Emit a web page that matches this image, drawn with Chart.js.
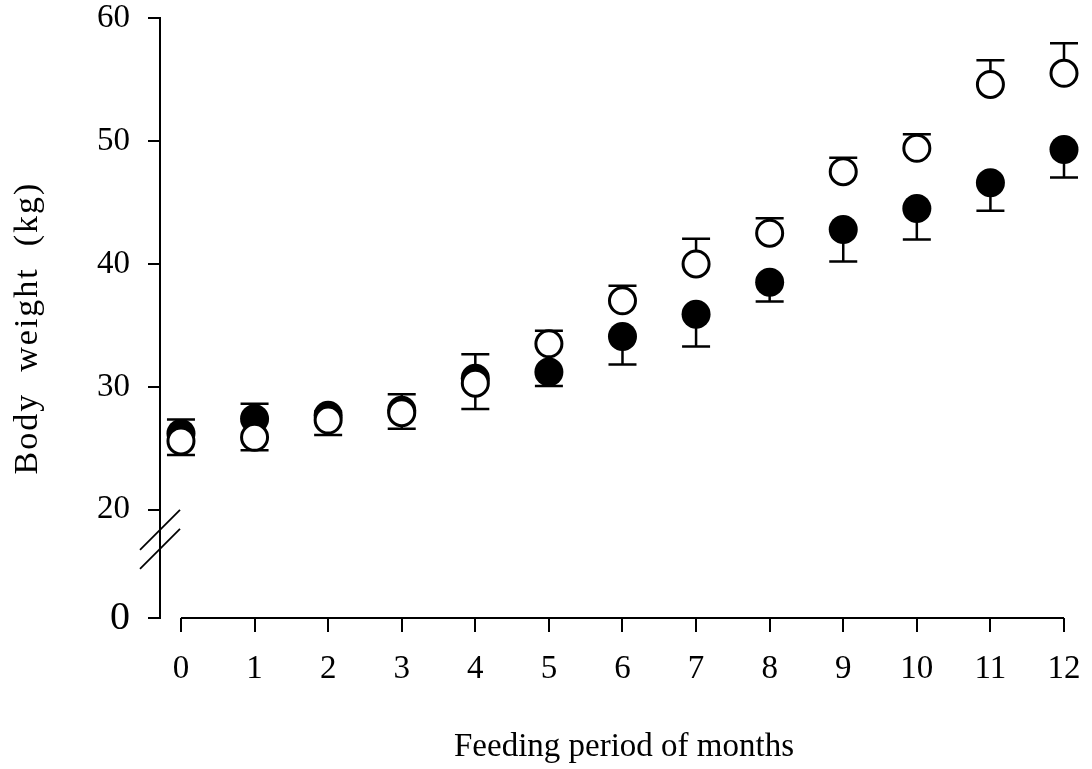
<!DOCTYPE html>
<html>
<head>
<meta charset="utf-8">
<script src="https://cdn.jsdelivr.net/npm/chart.js@4.4.0/dist/chart.umd.min.js"></script>
<style>
  html, body { margin: 0; padding: 0; background: #fff; }
  canvas { display: block; }
</style>
</head>
<body>
<canvas id="chart" width="1092" height="769"></canvas>
<script>
// ---------------- Data ----------------
const months = [0, 1, 2, 3, 4, 5, 6, 7, 8, 9, 10, 11, 12];

// open circles
const openWeight = [25.6, 25.9, 27.3, 27.9, 30.3, 33.5, 37.0, 40.0, 42.5, 47.5, 49.4, 54.6, 55.5];
const openErrUp = [0, 0, 0, 0, 0, 1.06, 1.22, 2.04, 1.22, 1.14, 1.14, 1.96, 2.44];
const openErrDown = [1.14, 1.06, 1.22, 1.3, 2.1, 0, 0, 0, 0, 0, 0, 0, 0];

// filled circles
const filledWeight = [26.2, 27.4, 27.7, 28.1, 30.7, 31.2, 34.1, 35.9, 38.5, 42.8, 44.5, 46.6, 49.3];
const filledErrUp = [1.14, 1.22, 0.3, 1.3, 1.96, 0, 0, 0, 0, 0, 0, 0, 0];
const filledErrDown = [0, 0, 0, 0, 0, 1.14, 2.28, 2.61, 1.55, 2.61, 2.52, 2.28, 2.28];

const yTicks = [20, 30, 40, 50, 60];
const yBottom = 11.2; // broken axis: bottom of the axis is labelled 0

const xTitle = "Feeding period of months";
const yTitle = "Body  weight  (kg)";

// ---------------- Helpers ----------------
const FONT = '"Liberation Serif", "Times New Roman", serif';

function toPoints(values) {
  return months.map((m, i) => ({ x: m, y: values[i] }));
}

// error bars, axis line, break marks and titles
const extras = {
  id: "extras",
  beforeDatasetsDraw(chart) {
    const ctx = chart.ctx;
    const xs = chart.scales.x;
    const ys = chart.scales.y;
    const series = [
      [filledWeight, filledErrUp, filledErrDown],
      [openWeight, openErrUp, openErrDown],
    ];
    ctx.save();
    ctx.strokeStyle = "#000";
    ctx.lineWidth = 2.5;
    series.forEach(([vals, up, down]) => {
      vals.forEach((v, i) => {
        const px = xs.getPixelForValue(months[i]);
        [v + up[i], v - down[i]].forEach(end => {
          if (end === v) return;
          const y0 = ys.getPixelForValue(v);
          const y1 = ys.getPixelForValue(end);
          ctx.beginPath();
          ctx.moveTo(px, y0);
          ctx.lineTo(px, y1);
          ctx.moveTo(px - 14, y1);
          ctx.lineTo(px + 14, y1);
          ctx.stroke();
        });
      });
    });
    ctx.restore();
  },
  afterDraw(chart) {
    const ctx = chart.ctx;
    const xs = chart.scales.x;
    const ys = chart.scales.y;
    const area = chart.chartArea;
    ctx.save();
    ctx.strokeStyle = "#000";
    ctx.lineWidth = 2;

    // x axis line only spans the months
    ctx.beginPath();
    ctx.moveTo(xs.getPixelForValue(months[0]), area.bottom);
    ctx.lineTo(xs.getPixelForValue(months[months.length - 1]), area.bottom);
    ctx.stroke();

    // break marks under 20
    const p20 = ys.getPixelForValue(yTicks[0]);
    ctx.lineWidth = 1.8;
    [0, 19].forEach(off => {
      ctx.beginPath();
      ctx.moveTo(area.left - 20, p20 + 40 + off);
      ctx.lineTo(area.left + 20, p20 + off);
      ctx.stroke();
    });

    // titles
    ctx.fillStyle = "#000";
    ctx.textAlign = "center";
    ctx.textBaseline = "middle";
    ctx.font = `33px ${FONT}`;
    ctx.fillText(xTitle, (area.left + area.right) / 2 + 12, 747);

    ctx.translate(28, 328);
    ctx.rotate(-Math.PI / 2);
    ctx.font = `34px ${FONT}`;
    ctx.letterSpacing = "2px";
    ctx.fillText(yTitle, 0, 0);
    ctx.restore();
  },
};

// ---------------- Chart ----------------
new Chart(document.getElementById("chart"), {
  type: "scatter",
  data: {
    datasets: [
      {
        data: toPoints(openWeight),
        pointRadius: 13,
        pointBorderWidth: 3,
        pointBackgroundColor: "#fff",
        pointBorderColor: "#000",
        clip: false,
      },
      {
        data: toPoints(filledWeight),
        pointRadius: 14.5,
        pointBorderWidth: 0,
        pointBackgroundColor: "#000",
        pointBorderColor: "#000",
        clip: false,
      },
    ],
  },
  options: {
    responsive: false,
    animation: false,
    layout: { padding: { top: 18, right: 28, bottom: 0, left: 0 } },
    plugins: { legend: { display: false }, tooltip: { enabled: false } },
    scales: {
      x: {
        type: "linear",
        min: -0.285,
        max: 12,
        afterBuildTicks: scale => {
          scale.ticks = months.map(v => ({ value: v }));
        },
        afterFit: scale => {
          scale.height = 151;
          scale.paddingLeft = 0;
          scale.paddingRight = 0;
        },
        border: { display: false },
        grid: { drawOnChartArea: false, tickLength: 14, color: "#000", lineWidth: 2 },
        ticks: {
          color: "#000",
          padding: 18,
          font: { family: FONT, size: 33 },
          maxRotation: 0,
        },
      },
      y: {
        min: yBottom,
        max: 60,
        afterBuildTicks: scale => {
          scale.ticks = [yBottom, ...yTicks].map(v => ({ value: v }));
        },
        afterFit: scale => {
          scale.width = 160;
          scale.paddingTop = 0;
          scale.paddingBottom = 0;
        },
        border: { display: true, color: "#000", width: 2 },
        grid: { drawOnChartArea: false, tickLength: 12, color: "#000", lineWidth: 2 },
        ticks: {
          color: "#000",
          padding: 18,
          callback: v => (v === yBottom ? "0" : v),
          font: ctx => ({
            family: FONT,
            size: ctx.tick && ctx.tick.value === yBottom ? 40 : 33,
          }),
        },
      },
    },
  },
  plugins: [extras],
});
</script>
</body>
</html>
